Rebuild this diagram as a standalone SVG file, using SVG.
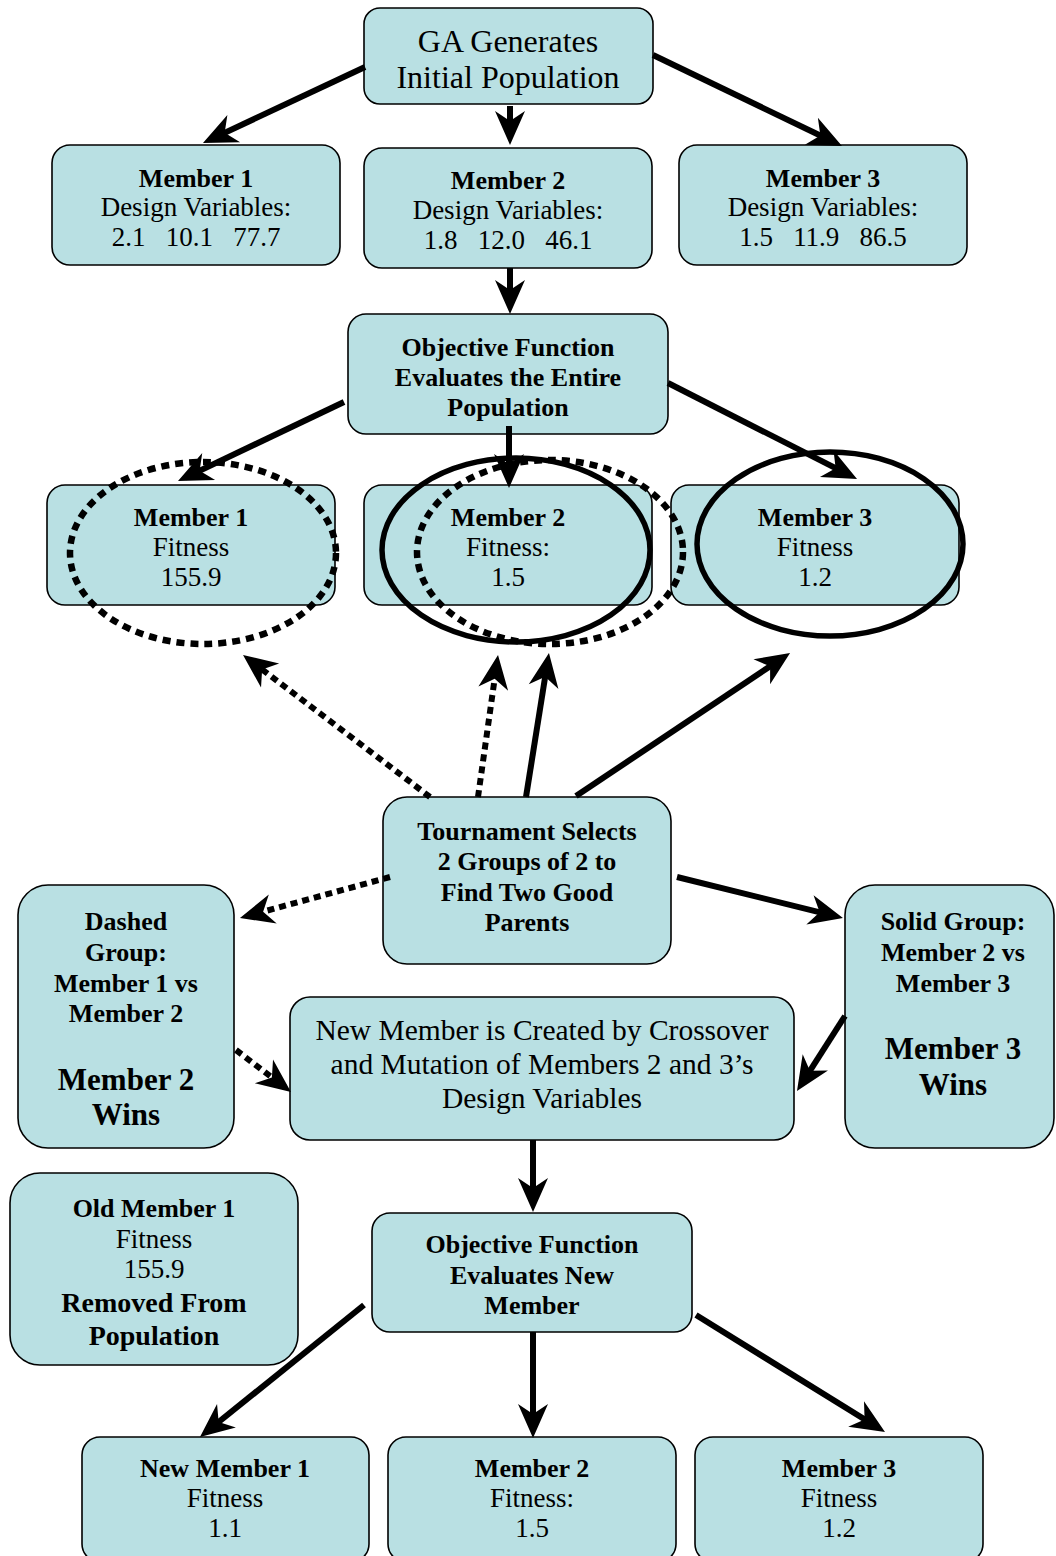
<svg xmlns="http://www.w3.org/2000/svg" width="1056" height="1556" viewBox="0 0 1056 1556">
<style>
.box{fill:#B9E0E3;stroke:#000;stroke-width:1.6}
text{font-family:"Liberation Serif","Times New Roman",serif;fill:#000;text-anchor:middle}
.b{font-weight:bold;font-size:26px}
.r{font-size:27px}
.big{font-weight:bold;font-size:31px}
.ga{font-size:32px}
.nm{font-size:29.5px}
.rm{font-weight:bold;font-size:28px}
.arr{stroke:#000;stroke-width:6;fill:none;marker-end:url(#ah)}
.dash{stroke-dasharray:7 5}
.ell{fill:none;stroke:#000;stroke-width:5.5}
.ed{stroke-width:6.5;stroke-dasharray:8 6}
</style>
<defs>
<marker id="ah" viewBox="-36 -17 38 34" markerWidth="38" markerHeight="34" refX="-8" refY="0" orient="auto" markerUnits="userSpaceOnUse">
<path d="M0,0 L-34,-15 L-24,0 L-34,15 Z" fill="#000"/>
</marker>
</defs>

<g id="ga">
<rect class="box" x="364" y="8" width="289" height="96" rx="16"/>
<text class="ga" x="508" y="52">GA Generates</text>
<text class="ga" x="508" y="88">Initial Population</text>
</g>

<g id="m1">
<rect class="box" x="52" y="145" width="288" height="120" rx="18"/>
<text class="b" x="196" y="187">Member 1</text>
<text class="r" x="196" y="216">Design Variables:</text>
<text class="r" x="196" y="246" xml:space="preserve">2.1   10.1   77.7</text>
</g>
<g id="m2">
<rect class="box" x="364" y="148" width="288" height="120" rx="18"/>
<text class="b" x="508" y="189">Member 2</text>
<text class="r" x="508" y="219">Design Variables:</text>
<text class="r" x="508" y="249" xml:space="preserve">1.8   12.0   46.1</text>
</g>
<g id="m3">
<rect class="box" x="679" y="145" width="288" height="120" rx="18"/>
<text class="b" x="823" y="187">Member 3</text>
<text class="r" x="823" y="216">Design Variables:</text>
<text class="r" x="823" y="246" xml:space="preserve">1.5   11.9   86.5</text>
</g>

<g id="obj1">
<rect class="box" x="348" y="314" width="320" height="120" rx="18"/>
<text class="b" x="508" y="356">Objective Function</text>
<text class="b" x="508" y="386">Evaluates the Entire</text>
<text class="b" x="508" y="416">Population</text>
</g>

<g id="f1">
<rect class="box" x="47" y="485" width="288" height="120" rx="18"/>
<text class="b" x="191" y="526">Member 1</text>
<text class="r" x="191" y="556">Fitness</text>
<text class="r" x="191" y="586">155.9</text>
</g>
<g id="f2">
<rect class="box" x="364" y="485" width="288" height="120" rx="18"/>
<text class="b" x="508" y="526">Member 2</text>
<text class="r" x="508" y="556">Fitness:</text>
<text class="r" x="508" y="586">1.5</text>
</g>
<g id="f3">
<rect class="box" x="671" y="485" width="288" height="120" rx="18"/>
<text class="b" x="815" y="526">Member 3</text>
<text class="r" x="815" y="556">Fitness</text>
<text class="r" x="815" y="586">1.2</text>
</g>

<g id="ellipses">
<ellipse class="ell ed" cx="203" cy="553" rx="133" ry="91"/>
<ellipse class="ell" cx="516" cy="550" rx="134" ry="92"/>
<ellipse class="ell ed" cx="550" cy="552" rx="133" ry="92"/>
<ellipse class="ell" cx="830" cy="544" rx="133" ry="92"/>
</g>

<g id="tour">
<rect class="box" x="383" y="797" width="288" height="167" rx="24"/>
<text class="b" x="527" y="840">Tournament Selects</text>
<text class="b" x="527" y="870">2 Groups of 2 to</text>
<text class="b" x="527" y="901">Find Two Good</text>
<text class="b" x="527" y="931">Parents</text>
</g>

<g id="dashed">
<rect class="box" x="18" y="885" width="216" height="263" rx="30"/>
<text class="b" x="126" y="930">Dashed</text>
<text class="b" x="126" y="961">Group:</text>
<text class="b" x="126" y="992">Member 1 vs</text>
<text class="b" x="126" y="1022">Member 2</text>
<text class="big" x="126" y="1090">Member 2</text>
<text class="big" x="126" y="1125">Wins</text>
</g>

<g id="solid">
<rect class="box" x="845" y="885" width="209" height="263" rx="30"/>
<text class="b" x="953" y="930">Solid Group:</text>
<text class="b" x="953" y="961">Member 2 vs</text>
<text class="b" x="953" y="992">Member 3</text>
<text class="big" x="953" y="1059">Member 3</text>
<text class="big" x="953" y="1095">Wins</text>
</g>

<g id="newm">
<rect class="box" x="290" y="997" width="504" height="143" rx="20"/>
<text class="nm" x="542" y="1040">New Member is Created by Crossover</text>
<text class="nm" x="542" y="1074">and Mutation of Members 2 and 3’s</text>
<text class="nm" x="542" y="1108">Design Variables</text>
</g>

<g id="old">
<rect class="box" x="10" y="1173" width="288" height="192" rx="30"/>
<text class="b" x="154" y="1217">Old Member 1</text>
<text class="r" x="154" y="1248">Fitness</text>
<text class="r" x="154" y="1278">155.9</text>
<text class="rm" x="154" y="1312">Removed From</text>
<text class="rm" x="154" y="1345">Population</text>
</g>

<g id="obj2">
<rect class="box" x="372" y="1213" width="320" height="119" rx="18"/>
<text class="b" x="532" y="1253">Objective Function</text>
<text class="b" x="532" y="1284">Evaluates New</text>
<text class="b" x="532" y="1314">Member</text>
</g>

<g id="n1">
<rect class="box" x="82" y="1437" width="287" height="125" rx="18"/>
<text class="b" x="225" y="1477">New Member 1</text>
<text class="r" x="225" y="1507">Fitness</text>
<text class="r" x="225" y="1537">1.1</text>
</g>
<g id="n2">
<rect class="box" x="388" y="1437" width="288" height="125" rx="18"/>
<text class="b" x="532" y="1477">Member 2</text>
<text class="r" x="532" y="1507">Fitness:</text>
<text class="r" x="532" y="1537">1.5</text>
</g>
<g id="n3">
<rect class="box" x="695" y="1437" width="288" height="125" rx="18"/>
<text class="b" x="839" y="1477">Member 3</text>
<text class="r" x="839" y="1507">Fitness</text>
<text class="r" x="839" y="1537">1.2</text>
</g>

<g id="connectors">
<line class="arr" x1="365" y1="67" x2="210.2" y2="139.6"/>
<line class="arr" x1="510" y1="106" x2="510" y2="137"/>
<line class="arr" x1="653" y1="55" x2="834.8" y2="142.5"/>
<line class="arr" x1="510" y1="268" x2="510" y2="306"/>
<line class="arr" x1="344" y1="402" x2="185.2" y2="477.6"/>
<line class="arr" x1="509" y1="426" x2="509" y2="480"/>
<line class="arr" x1="668" y1="383" x2="849.9" y2="475.4"/>
<line class="arr dash" x1="430" y1="797" x2="249.4" y2="659.8"/>
<line class="arr dash" x1="478" y1="797" x2="496.9" y2="662.9"/>
<line class="arr" x1="526" y1="797" x2="547.7" y2="660.9"/>
<line class="arr" x1="576" y1="796" x2="783.4" y2="657.4"/>
<line class="arr dash" x1="390" y1="877" x2="247.7" y2="915.9"/>
<line class="arr" x1="677" y1="877" x2="835.2" y2="916.1"/>
<line class="arr dash" x1="236" y1="1050" x2="284.6" y2="1087.1"/>
<line class="arr" x1="845" y1="1016" x2="801.3" y2="1084.3"/>
<line class="arr" x1="533" y1="1140" x2="533" y2="1204"/>
<line class="arr" x1="364" y1="1305" x2="206.2" y2="1432"/>
<line class="arr" x1="533" y1="1332" x2="533" y2="1430"/>
<line class="arr" x1="696" y1="1315" x2="878.2" y2="1427.8"/>
</g>
</svg>
